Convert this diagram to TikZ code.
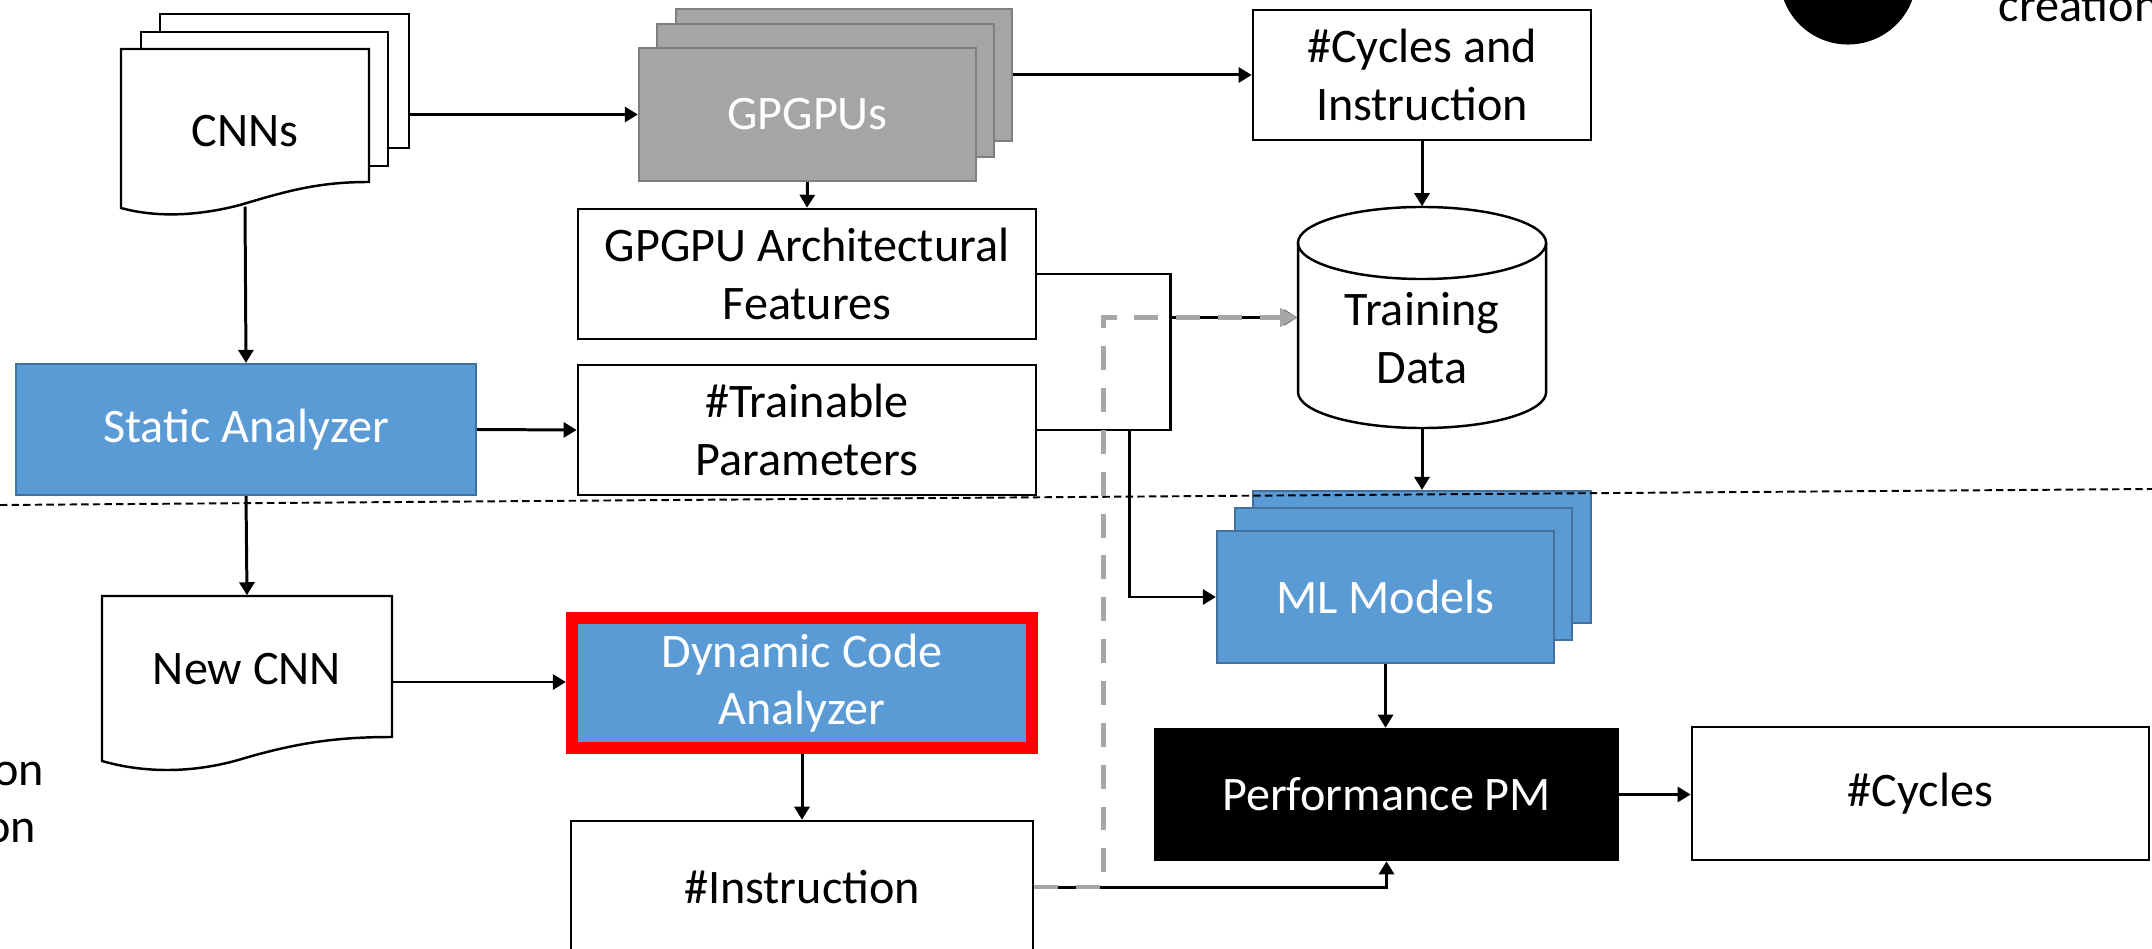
\documentclass[tikz,border=0pt]{standalone}
\usepackage{fontspec}
\setmainfont{Carlito}
\usetikzlibrary{arrows.meta}
\definecolor{myblue}{HTML}{5B9BD5}
\definecolor{myblueb}{HTML}{41719C}
\definecolor{mygray}{HTML}{A5A5A5}
\definecolor{mygrayb}{HTML}{7F7F7F}
\definecolor{dashgray}{HTML}{A6A6A6}
\tikzset{
 txt/.style={font=\fontsize{13.7}{16.4}\selectfont, align=center},
 wbox/.style={draw=black, line width=0.7pt, fill=white, txt, inner sep=0pt},
 bbox/.style={draw=myblueb, line width=0.6pt, fill=myblue, text=white, txt, inner sep=0pt},
 gbox/.style={draw=mygrayb, line width=0.6pt, fill=mygray, text=white, txt, inner sep=0pt},
 kbox/.style={draw=black, line width=0.7pt, fill=black, text=white, txt, inner sep=0pt},
 conn/.style={line width=0.85pt, -{Triangle[length=0.13cm,width=0.15cm]}},
 plain/.style={line width=0.85pt},
 graydash/.style={draw=dashgray, line width=1.4pt, dash pattern=on 6.8pt off 5.1pt, -{Triangle[length=0.17cm,width=0.18cm]}},
 sepline/.style={line width=0.55pt, dash pattern=on 2.1pt off 1.2pt},
}
\begin{document}
\begin{tikzpicture}[x=0.01cm, y=-0.01cm]
\useasboundingbox (0,0) rectangle (2152,949);

% legend fragments
\fill[black] (1848,-24) circle [radius=0.685cm];
\node[txt, anchor=base west, inner sep=0pt] (leg1) at (1998,22) {creation};
\node[txt, anchor=base east, inner sep=0pt] (leg2) at (45,785) {on};
\node[txt, anchor=base east, inner sep=0pt] (leg3) at (37,842) {on};

% CNNs document stack
\node[wbox, minimum width=2.49cm, minimum height=1.34cm] (cnn3) at (284.5,81) {};
\node[wbox, minimum width=2.47cm, minimum height=1.34cm] (cnn2) at (264.5,99) {};
\draw[fill=white, line width=0.7pt] (121,49) -- (369,49) -- (369,182)
  .. controls (320,182) and (290,190) .. (240,205)
  .. controls (190,218) and (150,216) .. (121,208) -- cycle;
\node[txt, minimum width=2.48cm, minimum height=1.50cm, inner sep=0pt] (cnn) at (245,131) {CNNs};

% GPGPUs stack
\node[gbox, minimum width=3.36cm, minimum height=1.32cm] (gpu3) at (844,75) {};
\node[gbox, minimum width=3.37cm, minimum height=1.33cm] (gpu2) at (825.5,90.5) {};
\node[gbox, minimum width=3.37cm, minimum height=1.33cm] (gpu) at (807.5,114.5) {GPGPUs};

% white boxes
\node[wbox, minimum width=3.38cm, minimum height=1.30cm] (cyc) at (1422,75) {\#Cycles and\\Instruction};
\node[wbox, minimum width=4.58cm, minimum height=1.30cm] (arch) at (807,274) {GPGPU Architectural\\Features};
\node[wbox, minimum width=4.58cm, minimum height=1.30cm] (train) at (807,430) {\#Trainable\\Parameters};
\node[bbox, minimum width=4.60cm, minimum height=1.31cm] (static) at (246,429.5) {Static Analyzer};

% Training data cylinder
\fill[white] (1298,243) rectangle (1546,392);
\fill[white] (1422,392) ellipse [x radius=1.24cm, y radius=0.36cm];
\fill[white] (1422,243) ellipse [x radius=1.24cm, y radius=0.36cm];
\draw[line width=0.7pt] (1298,243) -- (1298,392) arc [start angle=180, end angle=360, x radius=1.24cm, y radius=0.36cm] -- (1546,243);
\draw[line width=0.7pt] (1422,243) ellipse [x radius=1.24cm, y radius=0.36cm];
\node[minimum width=2.48cm, minimum height=2.21cm, inner sep=0pt] (td) at (1422,317.5) {};
\node[txt] (tdtxt) at (1422,338) {Training\\Data};

% ML models stack
\node[bbox, minimum width=3.38cm, minimum height=1.32cm] (ml3) at (1422,557) {};
\node[bbox, minimum width=3.37cm, minimum height=1.32cm] (ml2) at (1403.5,574) {};
\node[bbox, minimum width=3.37cm, minimum height=1.32cm] (ml) at (1385.5,597) {ML Models};

% New CNN document
\draw[fill=white, line width=0.7pt] (102,596) -- (392,596) -- (392,737)
  .. controls (340,737) and (300,742) .. (245,758)
  .. controls (190,775) and (140,772) .. (102,761) -- cycle;
\node[minimum width=2.90cm, minimum height=1.72cm, inner sep=0pt] (newcnn) at (247,682) {};
\node[txt] (newcnntxt) at (247,669) {New CNN};

% lower boxes
\node[bbox, draw=red, line width=0.12cm, minimum width=4.60cm, minimum height=1.30cm] (dca) at (802,683) {Dynamic Code\\Analyzer};
\node[wbox, minimum width=4.62cm, minimum height=1.32cm] (instr) at (802,887) {\#Instruction};
\node[kbox, minimum width=4.63cm, minimum height=1.31cm] (pm) at (1386.5,794.5) {Performance PM};
\node[wbox, minimum width=4.57cm, minimum height=1.33cm] (cyc2) at (1920.5,793.5) {\#Cycles};

% separator
\draw[sepline] (0,505) -- (2152,489);

% connectors
\draw[conn] (cnn3.east |- gpu.west) -- (gpu.west);
\draw[conn] (gpu3.east) -- (gpu3.east -| cyc.west);
\draw[conn] (gpu.south) -- (arch.north);
\draw[conn] (cyc.south) -- (td.north);
\draw[conn] (td.south) -- (ml3.north);
\draw[conn] (cnn.south) -- (static.north);
\draw[conn] (static.east) -- (train.west);
\draw[conn] (static.south) -- (newcnn.north);
\draw[conn] (newcnn.east) -- (newcnn.east -| dca.west);
\draw[conn] (dca.south) -- (instr.north);
\draw[plain] (arch.east) -- ++(133,0) coordinate (br1) |- (train.east);
\draw[conn] (br1 |- td.west) -- (td.west);
\draw[conn] ([xshift=0.92cm]train.east) |- (ml.west);
\draw[conn] (instr.east) -| (pm.south);
\draw[conn] (ml.south) -- (ml.south |- pm.north);
\draw[conn] (pm.east) -- (pm.east -| cyc2.west);
\draw[graydash] (instr.east) -- ++(69,0) |- (td.west);
\end{tikzpicture}
\end{document}
